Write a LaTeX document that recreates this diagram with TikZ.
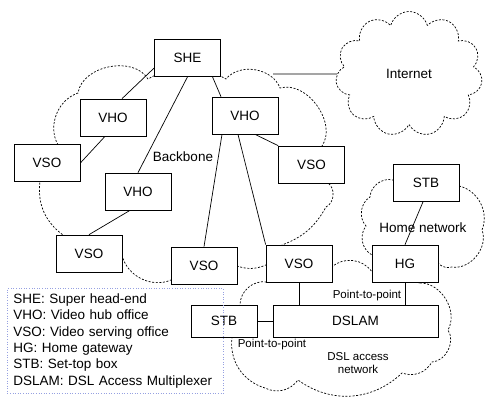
\documentclass[tikz,border=0pt]{standalone}
\usepackage{fontspec}
\setmainfont{Liberation Sans}
\usetikzlibrary{shapes.symbols}
\definecolor{legblue}{RGB}{150,160,225}
\begin{document}
\begin{tikzpicture}[x=1pt,y=-1pt,
    every node/.style={font=\fontsize{13.5}{16.4}\selectfont},
    box/.style={draw, fill=white, line width=0.7pt, minimum width=66pt, minimum height=37pt, inner sep=0pt},
    cloudline/.style={line width=0.7pt, dash pattern=on 2pt off 1.6pt},
    small/.style={font=\fontsize{11.5}{13}\selectfont}]
    \useasboundingbox (0,0) rectangle (485,397);
    % clouds first, the boxes cover them
    \draw[cloudline] (58,145) to[bend left=50] (78,93) to[bend left=70] (148,79)
        to[bend left=30] (226,79) to[bend left=60] (280,88) to[bend left=70] (322,146)
        -- (328,183) to[bend left=60] (326,207) to[bend left=20] (282,245) -- (266,265)
        to[bend left=20] (237,266) -- (171,280) to[bend left=50] (122,255) -- (63,235)
        to[bend left=30] (40,181) -- cycle;
    \draw[cloudline] (459,186) to[bend left=50] (482,230) to[bend left=60] (452,267)
        to[bend left=30] (438,263) -- (372,255) to[bend left=50] (366,226)
        to[bend left=50] (370,197) to[bend left=50] (393,180) -- cycle;
    \draw[cloudline] (420,283) to[bend left=60] (448,330) to[bend left=60] (432,362)
        to[bend left=40] (402,373) to[bend left=40] (298,380) to[bend left=40] (265,388)
        to[bend left=40] (232,337) -- (240,305) to[bend left=50] (267,282) -- (332,267)
        to[bend left=50] (372,272) -- cycle;
    \node[cloud, draw, cloudline, cloud puffs=11, cloud ignores aspect, minimum width=147pt, minimum height=125pt] (inet) at (409,74) {Internet};

    \node[box] (she) at (187.5,58) {SHE};
    \node[box] (vhoa) at (113,117.5) {VHO};
    \node[box] (vsoa) at (47,163) {VSO};
    \node[box] (vhob) at (138,191.5) {VHO};
    \node[box] (vhoc) at (245,115.5) {VHO};
    \node[box] (vsob) at (311.5,164.5) {VSO};
    \node[box] (stbb) at (426,183) {STB};
    \node[box] (vsoc) at (89,253.5) {VSO};
    \node[box] (vsod) at (204,265.5) {VSO};
    \node[box] (vsoe) at (299,263.5) {VSO};
    \node[box] (hg) at (405,263.5) {HG};
    \node[box, minimum width=165pt, minimum height=32pt] (dslam) at (355.5,321) {DSLAM};
    \node[box, minimum height=32pt] (stba) at (224,321) {STB};

    \node (backbone) at (183,157) {Backbone};
    \node (home) at (423,228) {Home network};
    \node[small] (ptpa) at (367,296) {Point-to-point};
    \node[small] (ptpb) at (272,345) {Point-to-point};
    \node[small, align=center] (dsl) at (358,363) {DSL access\\network};
    \coordinate (bbedge) at (273,74);

    \draw[line width=0.7pt] ([yshift=-10pt]she.west) -- ([xshift=9pt]vhoa.north);
    \draw[line width=0.7pt] ([xshift=-8pt]vhoa.south) -- (vsoa.east);
    \draw[line width=0.7pt] (she.south) -- (vhob.north);
    \draw[line width=0.7pt] ([xshift=25pt]she.south) -- ([xshift=-24pt]vhoc.north);
    \draw[line width=0.7pt] (bbedge) -- (inet.west);
    \draw[line width=0.7pt] ([xshift=10pt]vhoc.south) -- (vsob.north west);
    \draw[line width=0.7pt] ([xshift=-23pt]vhoc.south) -- (vsod.north);
    \draw[line width=0.7pt] ([xshift=-7pt]vhoc.south) -- (vsoe.north west);
    \draw[line width=0.7pt] ([xshift=-8pt]vhob.south) -- (vsoc.north);
    \draw[line width=0.7pt] ([xshift=-3pt]stbb.south) -- (hg.north);
    \draw[line width=0.7pt] (vsoe.south) -- (vsoe.south |- dslam.north);
    \draw[line width=0.7pt] (hg.south) -- (hg.south |- dslam.north);
    \draw[line width=0.7pt] (stba.east) -- (dslam.west);

    \node[draw=legblue, dotted, line width=0.6pt, anchor=north west, minimum width=216pt, minimum height=105pt,
        text width=204pt, inner xsep=6pt, align=left] (legend) at (7,288)
        {SHE: Super head-end\\VHO: Video hub office\\VSO: Video serving office\\HG: Home gateway\\STB: Set-top box\\DSLAM: DSL Access Multiplexer};
\end{tikzpicture}
\end{document}
